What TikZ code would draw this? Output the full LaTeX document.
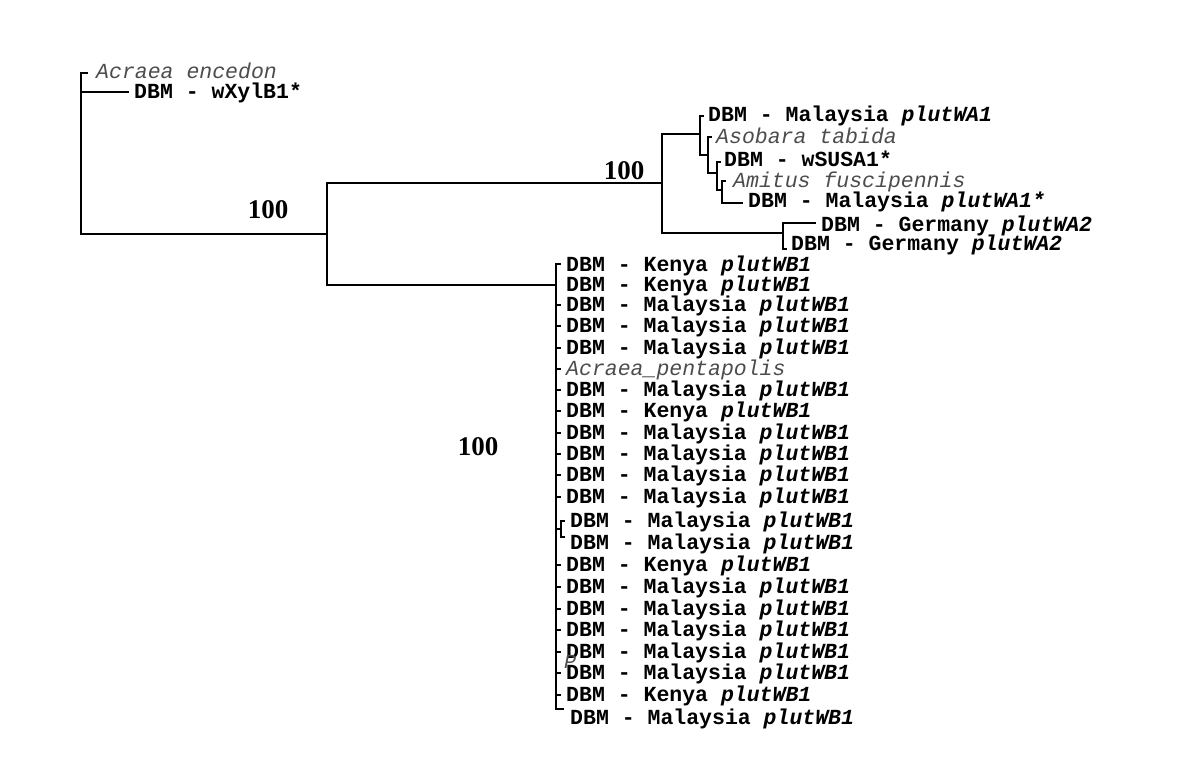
\documentclass[tikz,border=0pt]{standalone}
\usepackage{fontspec}
\setmainfont{Liberation Serif}
\newfontfamily\monof{Liberation Mono}
\begin{document}
\begin{tikzpicture}[x=1pt,y=-1pt,
  br/.style={line width=1.1pt,black,line cap=rect},
  lab/.style={anchor=base west,inner sep=0pt,font=\monof\bfseries\fontsize{21.5}{22}\selectfont},
  sp/.style={anchor=base west,inner sep=0pt,font=\monof\itshape\fontsize{21.5}{22}\selectfont,text=black!70},
  bs/.style={inner sep=0pt,font=\bfseries\fontsize{27}{27}\selectfont}]
\useasboundingbox (0,0) rectangle (1200,780);
% internal node points
\coordinate (root) at (81,234);
\coordinate (n1) at (327,234);
\coordinate (nA) at (662,183);
\coordinate (nB) at (556,285);
% root
\draw[br] (81,73) -- (87,73);
\draw[br] (81,73) -- (root) -- (n1);
\draw[br] (81,92) -- (128,92);
\node[sp] (aenc) at (96,78) {Acraea encedon};
\node[lab] (wxyl) at (134,98) {DBM - wXylB1*};
\node[bs] (b1) at (268,210) {100};
% first split
\draw[br] (327,183) -- (327,285);
\draw[br] (327,183) -- (nA);
\draw[br] (327,285) -- (nB);
\node[bs] (b2) at (624,171) {100};
\node[bs] (b3) at (478,447) {100};
% A clade
\draw[br] (662,134) -- (662,233) -- (783,233);
\draw[br] (662,134) -- (700,134);
\draw[br] (700,116) -- (703,116);
\draw[br] (700,116) -- (700,155) -- (708,155);
\draw[br] (708,137) -- (711,137);
\draw[br] (708,137) -- (708,173) -- (717,173);
\draw[br] (717,162) -- (720,162);
\draw[br] (717,162) -- (717,190) -- (722,190);
\draw[br] (722,181) -- (725,181);
\draw[br] (722,181) -- (722,203) -- (742,203);
\draw[br] (783,223) -- (815,223);
\draw[br] (783,223) -- (783,249) -- (786,249);
\node[lab] (a1) at (708,121) {DBM - Malaysia \textit{plutWA1}};
\node[sp] (a2) at (716,143) {Asobara tabida};
\node[lab] (a3) at (724,166) {DBM - wSUSA1*};
\node[sp] (a4) at (733,187) {Amitus fuscipennis};
\node[lab] (a5) at (748,207) {DBM - Malaysia \textit{plutWA1*}};
\node[lab] (a6) at (821,231) {DBM - Germany \textit{plutWA2}};
\node[lab] (a7) at (791,250) {DBM - Germany \textit{plutWA2}};
% B clade
\draw[br] (556,264) -- (556,709) -- (563,709);
\foreach \yy in {264,305,326,348,369,390,411,433,454,475,497,565,587,609,630,652,673,695}
  \draw[br] (556,\yy) -- (560,\yy);
\draw[br] (556,529) -- (561,529);
\draw[br] (564,521) -- (561,521) -- (561,537) -- (564,537);
\node[lab] (w1) at (566,271) {DBM - Kenya \textit{plutWB1}};
\node[lab] (w2) at (566,291) {DBM - Kenya \textit{plutWB1}};
\node[lab] (w3) at (566,311) {DBM - Malaysia \textit{plutWB1}};
\node[lab] (w4) at (566,332) {DBM - Malaysia \textit{plutWB1}};
\node[lab] (w5) at (566,354) {DBM - Malaysia \textit{plutWB1}};
\node[sp] (w6) at (566,375) {Acraea\_pentapolis};
\node[lab] (w7) at (566,396) {DBM - Malaysia \textit{plutWB1}};
\node[lab] (w8) at (566,417) {DBM - Kenya \textit{plutWB1}};
\node[lab] (w9) at (566,439) {DBM - Malaysia \textit{plutWB1}};
\node[lab] (w10) at (566,460) {DBM - Malaysia \textit{plutWB1}};
\node[lab] (w11) at (566,481) {DBM - Malaysia \textit{plutWB1}};
\node[lab] (w12) at (566,503) {DBM - Malaysia \textit{plutWB1}};
\node[lab] (w13) at (570,527) {DBM - Malaysia \textit{plutWB1}};
\node[lab] (w14) at (570,549) {DBM - Malaysia \textit{plutWB1}};
\node[lab] (w15) at (566,571) {DBM - Kenya \textit{plutWB1}};
\node[lab] (w16) at (566,593) {DBM - Malaysia \textit{plutWB1}};
\node[lab] (w17) at (566,615) {DBM - Malaysia \textit{plutWB1}};
\node[lab] (w18) at (566,636) {DBM - Malaysia \textit{plutWB1}};
\node[lab] (w19) at (566,658) {DBM - Malaysia \textit{plutWB1}};
\node[lab] (w20) at (566,679) {DBM - Malaysia \textit{plutWB1}};
\node[lab] (w21) at (566,701) {DBM - Kenya \textit{plutWB1}};
\node[lab] (w22) at (570,724) {DBM - Malaysia \textit{plutWB1}};
\node[anchor=base west,inner sep=0pt,font=\monof\itshape\fontsize{20}{20}\selectfont,text=black!70] (pp) at (564,668) {P};
\end{tikzpicture}
\end{document}
